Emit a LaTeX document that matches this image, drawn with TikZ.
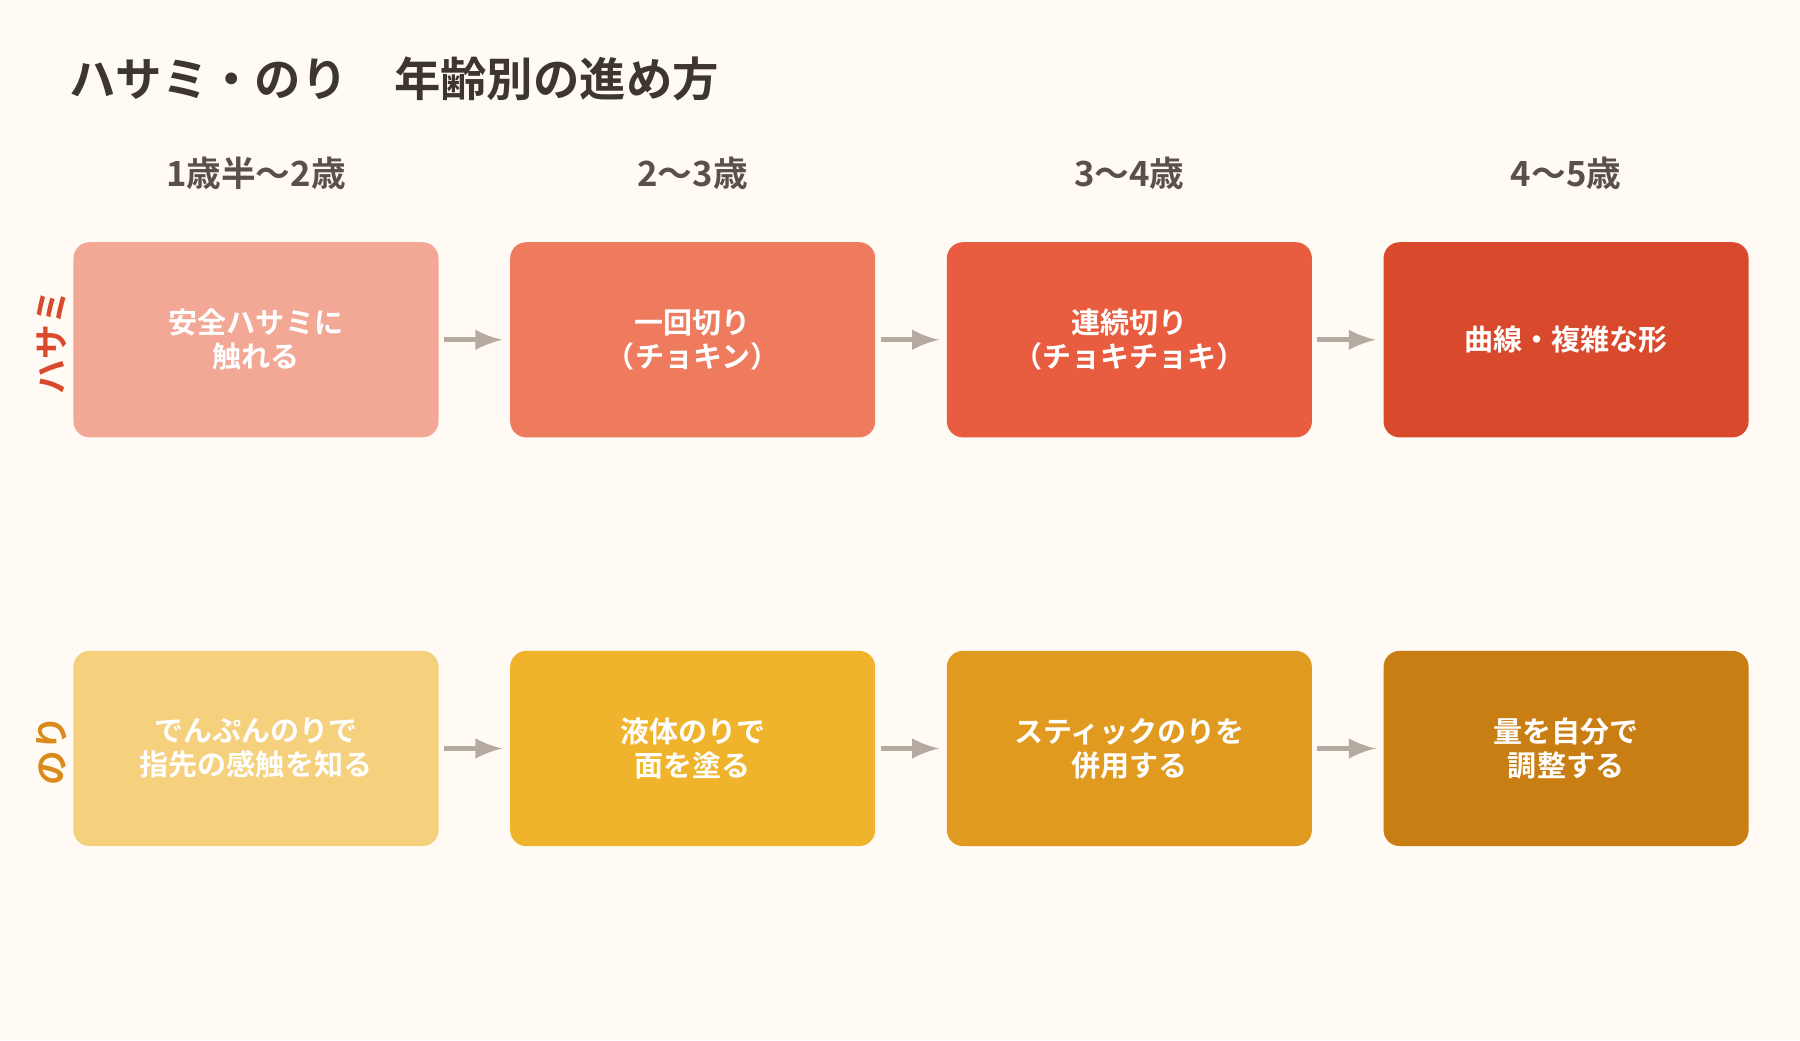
\documentclass[tikz,border=0pt]{standalone}
\usepackage{fontspec}
\setmainfont{Noto Sans CJK JP}[BoldFont={Noto Sans CJK JP Bold}]
\usetikzlibrary{positioning}
\definecolor{bg}{HTML}{FFFBF4}
\definecolor{titlecol}{HTML}{3D3530}
\definecolor{agecol}{HTML}{5A5048}
\definecolor{arrcol}{HTML}{B5AAA0}
\definecolor{hA}{HTML}{F3A896}
\definecolor{hB}{HTML}{EE7B5E}
\definecolor{hC}{HTML}{E85C40}
\definecolor{hD}{HTML}{D9492B}
\definecolor{nA}{HTML}{F5D07D}
\definecolor{nB}{HTML}{EFB42B}
\definecolor{nC}{HTML}{E09A1F}
\definecolor{nD}{HTML}{C97E14}
\definecolor{noricol}{HTML}{D98A1A}

\begin{document}
\begin{tikzpicture}[
  box/.style={rectangle, rounded corners=0.14cm, minimum width=3.18cm, minimum height=1.70cm,
    text=white, font=\bfseries\fontsize{7.2}{8.4}\selectfont, align=center, inner sep=0pt},
  age/.style={text=agecol, font=\bfseries\fontsize{8.6}{10}\selectfont},
  side/.style={font=\bfseries\fontsize{8.6}{10}\selectfont, rotate=90},
  nextarr/.style={->, >=latex, line width=1.3pt, draw=arrcol, shorten >=0.06cm, shorten <=0.04cm},
  node distance=0.61cm
]
\fill[bg] (0,0) rectangle (15.68,-9.06);

\node (title) [anchor=west, text=titlecol, font=\bfseries\fontsize{11.5}{13}\selectfont] at (0.48,-0.69) {ハサミ・のり\quad 年齢別の進め方};

% Hasami row
\node (h1) [box, fill=hA] at (2.23,-2.96) {安全ハサミに\\触れる};
\node (h2) [box, fill=hB, right=of h1] {一回切り\\（チョキン）};
\node (h3) [box, fill=hC, right=of h2] {連続切り\\（チョキチョキ）};
\node (h4) [box, fill=hD, right=of h3] {曲線・複雑な形};

% Nori row
\node (n1) [box, fill=nA] at (2.23,-6.52) {でんぷんのりで\\指先の感触を知る};
\node (n2) [box, fill=nB, right=of n1] {液体のりで\\面を塗る};
\node (n3) [box, fill=nC, right=of n2] {スティックのりを\\併用する};
\node (n4) [box, fill=nD, right=of n3] {量を自分で\\調整する};

% Age headings
\node (a1) [age] at (h1.center |- 0,-1.51) {1歳半〜2歳};
\node (a2) [age] at (h2.center |- 0,-1.51) {2〜3歳};
\node (a3) [age] at (h3.center |- 0,-1.51) {3〜4歳};
\node (a4) [age] at (h4.center |- 0,-1.51) {4〜5歳};

% Row labels
\node (lh) [side, text=hD] at (0.45,-2.98) {ハサミ};
\node (ln) [side, text=noricol] at (0.45,-6.54) {のり};

% Arrows
\draw[nextarr] (h1) -- (h2);
\draw[nextarr] (h2) -- (h3);
\draw[nextarr] (h3) -- (h4);
\draw[nextarr] (n1) -- (n2);
\draw[nextarr] (n2) -- (n3);
\draw[nextarr] (n3) -- (n4);

\end{tikzpicture}
\end{document}
